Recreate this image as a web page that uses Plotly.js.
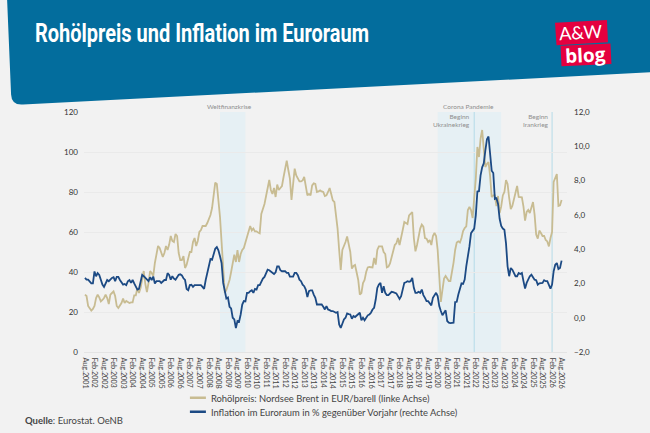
<!DOCTYPE html>
<html><head><meta charset="utf-8">
<script src="https://cdn.plot.ly/plotly-3.0.1.min.js"></script>
<style>html,body{margin:0;padding:0;background:#f2f2f2;}</style></head>
<body><div id="chart" style="width:650px;height:433px"></div>
<script>
const brent = [
28.7,28,23,21.5,20.7,21.5,23,27,28.7,27.3,25.3,26,
27,28.7,27,24,28.7,29.5,30.3,28,23,22,23,24.5,
26.7,24.5,25.5,25.2,24.5,24.8,24.8,28.3,28.3,32,29.5,32,
36,40.5,34,30,34.5,40.5,39.5,38,44.5,48.7,53,52,
49.5,47.5,49.5,53,51,53.7,58,55.5,55,59,58,49.5,
46,46,48,42,43.7,47,50,50,55,57,53,55.5,
60,61,63,63,63,64.5,66.5,68.5,72,78,84.7,84,
76.7,67.5,55,38.7,29.5,31,33,36,40,44.5,48.7,45,
51,45,49,51,52,54.7,58,60.5,63,60.8,61.7,60.3,
60.3,59.7,59.3,69,71,74,78,83,86,81,79,82,
77.5,83.7,81,82,83,87.5,92.5,95.7,91,86.7,76,85,
91.7,88.3,86.3,85.3,85.3,85.8,87.5,82.5,78.3,79,78.3,83.3,
84.3,84,80,80.3,80.8,80.3,80,78,78.3,80,82,79,
75.8,75,68.3,61.7,51,41,51,52.7,55,57.8,54.5,50,
41.7,43,43.5,39.5,36,28.7,29.5,34.5,36,40,42.3,42.5,
42.3,42.3,47,43.7,51,52.8,52.8,52.8,50,49,42.3,42.7,
44.3,47.7,51,53.5,54.3,57,53.5,56.7,61,65,64.7,64,
68.3,69,70,57,50.3,53.5,57.5,61.7,63.7,62.7,57,56.7,
55,56,53.5,58,59.5,58,51,36,25,31,36.7,38,
36.7,35.5,35.5,39.7,44.7,51,54.7,55.3,54.7,57,60.5,62,
62.8,71,72.5,71,67,77,86.7,102.5,97.5,106.7,111,101.7,
92.5,94,95,88,77.5,78.3,78.3,73,78,69.5,72.8,78.3,
80,86,84,77,71.5,73,76.5,78.5,83,77.5,77.3,77.3,
72.7,65.7,70,71,69.5,72,75,68.7,58.7,56.7,60.7,59.5,
58,58,56,55.3,52.8,57,60,85,87.5,89,73,73.3,
76];
const inflation = [
2.32,2.22,2.22,2.13,2.0,2.0,2.7,2.42,2.6,2.5,2.2,1.93,
1.8,2.03,2.2,2.13,2.26,2.32,2.36,2.13,2.38,2.38,2.2,2.07,
1.93,1.97,1.9,2.13,2.2,2.03,2.2,2.0,1.84,1.64,1.68,2.03,
2.5,2.42,2.32,2.28,2.13,2.36,2.2,2.4,2.0,2.13,2.13,2.13,
2.03,2.13,2.2,2.2,2.6,2.5,2.22,2.42,2.28,2.22,2.4,2.5,
2.53,2.47,2.3,2.2,1.68,1.6,1.9,1.92,1.8,1.9,1.9,1.9,
1.9,1.9,1.8,1.68,2.2,2.65,3.1,3.42,3.38,3.77,4.02,4.12,
3.93,3.58,3.19,2.03,1.55,1.12,1.18,0.64,0.54,0,-0.1,-0.6,
-0.19,-0.23,0.19,0.77,0.97,0.95,1.45,1.45,1.55,1.6,1.45,1.68,
1.64,1.9,1.9,2.13,2.28,2.38,2.61,2.8,2.77,2.71,2.61,2.55,
2.65,3.0,3.0,2.77,2.71,2.73,2.71,2.61,2.61,2.4,2.38,2.4,
2.61,2.61,2.48,2.22,2.13,1.93,1.84,1.64,1.2,1.55,1.6,1.6,
1.35,1.16,.77,.77,.77,.77,.64,.48,.68,.48,.44,.39,
.39,.33,.29,.33,-.39,-.6,-.29,-.1,0,.25,.21,.19,
-.06,.1,.04,.14,.19,.29,-.15,0,-.15,0,.14,.19,
.29,.48,.58,1.06,1.74,1.93,2.03,1.45,1.84,1.45,1.32,1.32,
1.45,1.51,1.49,1.45,1.41,1.26,1.1,1.26,1.74,2.03,2.07,2.13,
2.09,2.13,2.32,1.74,1.45,1.45,1.51,1.45,1.64,1.32,1.16,.97,
.97,.83,.72,1.16,1.35,1.45,1.26,.68,.39,.14,.29,.43,
-.19,-.29,-.31,-.31,-.29,.91,.93,1.35,1.64,2.0,1.97,2.22,
3.0,3.48,4.16,4.93,5.04,5.2,5.97,7.36,7.38,8.3,8.77,9.0,
9.74,10.41,10.57,9.74,8.58,8.44,6.93,6.97,6.64,5.77,5.35,5.2,
5.13,4.35,3.0,2.42,2.9,2.8,2.61,2.42,2.42,2.61,2.55,2.61,
2.13,1.7,2.03,2.22,2.42,2.51,2.32,2.22,2.19,1.93,2.01,2.01,
2.03,2.19,2.13,2.13,1.93,1.7,1.93,2.71,3.09,3.19,2.84,2.9,
3.33];
const monthNames = ['Jan','Feb','Mär','Apr','Mai','Jun','Jul','Aug','Sep','Okt','Nov','Dez'];
const startYear = 2001, startMonth = 7;
const months = brent.map((_, i) => {
  const m = startMonth + i;
  return monthNames[m % 12] + '.' + (startYear + Math.floor(m / 12));
});
const tickLabels = months.filter((_, i) => i % 6 === 0);
const brentName = 'Rohölpreis: Nordsee Brent in EUR/barell (linke Achse)';
const inflationName = 'Inflation im Euroraum in % gegenüber Vorjahr (rechte Achse)';
const crises = [['Sep.2008','Jan.2010'],['Feb.2020','Jun.2023']];
const warStarts = ['Jan.2022','Feb.2026'];

const L=84,R=567.5,T=111.5,B=352.5;
const X=p=>(p-L)/(R-L), Y=p=>(B-p)/(B-T);
const poly=(pts)=>pts.map((q,i)=>(i?'L':'M')+X(q[0])+','+Y(q[1])).join(' ')+' Z';
const font='Lato, sans-serif';
const idx=n=>months.indexOf(n);

const shapes=[
 {type:'path',xref:'paper',yref:'paper',layer:'below',line:{width:0},fillcolor:'#036d9d',
  path:`M${X(7)},${Y(-2)} L${X(11)},${Y(94)} Q${X(11.5)},${Y(105)} ${X(23)},${Y(104)} L${X(652)},${Y(71.6)} L${X(652)},${Y(-2)} Z`},
 {type:'path',xref:'paper',yref:'paper',line:{width:0},fillcolor:'#e4003f',path:poly([[555.5,22],[607.5,19],[608.5,41.5],[557,44.5]])},
 {type:'path',xref:'paper',yref:'paper',line:{width:0},fillcolor:'#e4003f',path:poly([[561,45],[611,42.7],[612,63.3],[562,65.5]])},
 ...crises.map(c=>({type:'rect',xref:'x',yref:'paper',x0:idx(c[0]),x1:idx(c[1]),y0:0,y1:1,layer:'below',line:{width:0},fillcolor:'#e6f0f4'})),
 ...warStarts.map(w=>({type:'line',xref:'x',yref:'paper',x0:idx(w),x1:idx(w),y0:0,y1:1,layer:'below',line:{width:1,color:'#b5dbe8'}}))
];
const note=(t,x,y,a,size,color,extra)=>Object.assign({text:t,xref:'paper',yref:'paper',x:X(x),y:Y(y),xanchor:a,yanchor:'middle',showarrow:false,align:a,
  font:{family:font,size:size,color:color}},extra||{});
const annotations=[
 note('Rohölpreis und Inflation im Euroraum',33,33,'left',25,'#ffffff',{font:{family:'Roboto, sans-serif',size:25,color:'#fff',weight:700}}),
 note('A&amp;W',581.5,31,'center',18,'#ffffff',{textangle:-3}),
 note('<b>blog</b>',586.5,54,'center',19,'#ffffff',{textangle:-3,font:{family:'"Open Sans", sans-serif',size:19,color:'#fff'}}),
 note('Weltfinanzkrise',229.5,105.5,'center',6.5,'#8f8f8f'),
 note('Corona Pandemie',468.5,105.5,'center',6.5,'#8f8f8f'),
 note('Beginn<br>Ukrainekrieg',472.5,120,'right',6.5,'#8f8f8f'),
 note('Beginn<br>Irankrieg',551,120,'right',6.5,'#8f8f8f'),
 note('<b>Quelle</b>: Eurostat. OeNB',23,421,'left',9.5,'#444444')
];
const data=[
 {type:'scatter',mode:'lines',name:brentName,x:months,y:brent,line:{color:'#c8bc92',width:1.8}},
 {type:'scatter',mode:'lines',name:inflationName,x:months,y:inflation,yaxis:'y2',line:{color:'#1c4a84',width:1.8}}
];
const layout={width:650,height:433,paper_bgcolor:'#f2f2f2',plot_bgcolor:'rgba(0,0,0,0)',separators:',.',
 margin:{l:L,r:650-R,t:T,b:433-B,pad:0,autoexpand:false},font:{family:font,color:'#444'},showlegend:true,
 legend:{x:X(171),y:Y(384),xanchor:'left',yanchor:'top',bgcolor:'rgba(0,0,0,0)',font:{family:font,size:9.4,color:'#444'},tracegroupgap:0,itemwidth:30},
 xaxis:{type:'category',range:[-0.6,303.4],tickmode:'array',tickvals:tickLabels,ticktext:tickLabels,tickangle:90,ticklabelstandoff:3,
  tickfont:{size:7.3,color:'#444',family:font},showgrid:false,zeroline:false,showline:true,linecolor:'#e4e4e4',linewidth:1,ticks:'',ticklen:0},
 yaxis:{range:[0,120],dtick:20,ticklabelstandoff:5,tickfont:{size:8,color:'#333',family:font},gridcolor:'#eaeaea',gridwidth:1,zeroline:false,showline:false,ticks:'',tickformat:'d'},
 yaxis2:{overlaying:'y',side:'right',range:[-2,12],dtick:2,ticklabelstandoff:6,tickformat:'.1f',tickfont:{size:8,color:'#333',family:font},showgrid:false,zeroline:false,showline:false,ticks:''},
 shapes,annotations
};
Plotly.newPlot('chart',data,layout,{displayModeBar:false,staticPlot:true}).then(()=>{
  const t=document.querySelector('.annotation-text');
  if(t){t.setAttribute('textLength','334');t.setAttribute('lengthAdjust','spacingAndGlyphs');}
  document.querySelectorAll('.legend .legendlines path').forEach(p=>{p.setAttribute('d','M19,0h16');p.style.strokeWidth='2.5px';});
  const items=document.querySelectorAll('.legend .traces');
  if(items[1]){
    const m=/translate\(([^,]+),\s*([^)]+)\)/.exec(items[1].getAttribute('transform'));
    if(m) items[1].setAttribute('transform',`translate(${m[1]},${parseFloat(m[2])-5})`);
  }
});
</script></body></html>
